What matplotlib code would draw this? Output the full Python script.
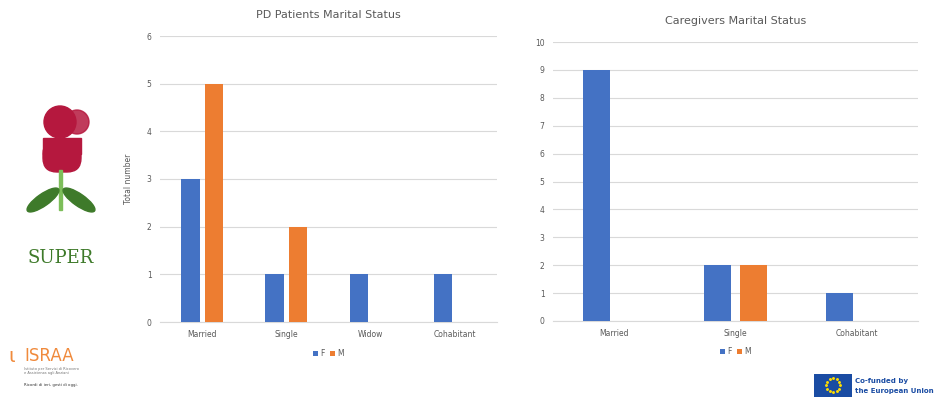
import matplotlib.pyplot as plt
import numpy as np
from matplotlib.patches import Circle, Ellipse, FancyBboxPatch, Rectangle

# data
patient_categories = ["Married", "Single", "Widow", "Cohabitant"]
patient_f = [3, 1, 1, 1]
patient_m = [5, 2, 0, 0]

caregiver_categories = ["Married", "Single", "Cohabitant"]
caregiver_f = [9, 2, 1]
caregiver_m = [0, 2, 0]

series_labels = ["F", "M"]
BLUE = "#4472C4"
ORANGE = "#ED7D31"
GRID = "#D9D9D9"
TEXT = "#595959"

W, H = 936, 397


def px(x0, y0, x1, y1):
    """Pixel box (top-left origin) -> figure rect."""
    return [x0 / W, 1 - y1 / H, (x1 - x0) / W, (y1 - y0) / H]


def bar_panel(ax, cats, f, m, ymax, title, width, offset, title_y):
    x = np.arange(len(cats))
    ax.bar(x - offset, f, width, color=BLUE, label=series_labels[0], zorder=3)
    ax.bar(x + offset, m, width, color=ORANGE, label=series_labels[1], zorder=3)
    ax.set_xlim(-0.5, len(cats) - 0.5)
    ax.set_ylim(0, ymax)
    ax.set_yticks(range(ymax + 1))
    ax.set_xticks(x)
    ax.set_xticklabels(cats)
    ax.grid(axis="y", color=GRID, linewidth=0.8, zorder=0)
    for s in ["top", "right", "left"]:
        ax.spines[s].set_visible(False)
    ax.spines["bottom"].set_color(GRID)
    ax.tick_params(axis="both", length=0, labelsize=5.5, colors=TEXT, pad=6)
    ax.figure.text(
        ax.get_position().x0 + ax.get_position().width / 2,
        title_y,
        title,
        ha="center",
        va="center",
        fontsize=8,
        color=TEXT,
    )
    ax.legend(
        loc="center",
        bbox_to_anchor=(0.5, -0.11),
        ncol=2,
        frameon=False,
        fontsize=5.5,
        handlelength=0.6,
        handleheight=0.6,
        handletextpad=0.3,
        columnspacing=0.8,
        labelcolor=TEXT,
    )


fig = plt.figure(figsize=(W / 100, H / 100), dpi=100)
fig.patch.set_facecolor("white")

ax1 = fig.add_axes(px(160, 36, 497, 322))
bar_panel(ax1, patient_categories, patient_f, patient_m, 6,
          "PD Patients Marital Status", 0.22, 0.14, 1 - 15 / H)
ax1.set_ylabel("Total number", fontsize=5.5, color=TEXT, labelpad=10)

ax2 = fig.add_axes(px(553, 42, 918, 321))
bar_panel(ax2, caregiver_categories, caregiver_f, caregiver_m, 10,
          "Caregivers Marital Status", 0.22, 0.145, 1 - 21 / H)

# SUPER logo
lg = fig.add_axes(px(15, 100, 105, 240))
lg.set_xlim(0, 90)
lg.set_ylim(140, 0)
lg.axis("off")
red = "#B5183E"
green = "#3E7A2A"
lg.add_patch(Circle((45, 22), 16, color=red))
lg.add_patch(Circle((62, 22), 12, color=red, alpha=0.85))
lg.add_patch(FancyBboxPatch((28, 40), 38, 32, boxstyle="round,pad=0,rounding_size=14", color=red))
lg.add_patch(Rectangle((28, 38), 38, 16, color=red))
lg.add_patch(Rectangle((44, 70), 3, 40, color="#7DBE5A"))
lg.add_patch(Ellipse((28, 100), 38, 12, angle=-35, color=green))
lg.add_patch(Ellipse((64, 100), 38, 12, angle=35, color=green))
fig.text(61 / W, 1 - 258 / H, "SUPER", ha="center", va="center",
         fontsize=13, color=green, family="DejaVu Serif")

# ISRAA logo
fig.text(24 / W, 1 - 356 / H, "ISRAA", ha="left", va="center",
         fontsize=12, color="#F08A3C")
fig.text(8 / W, 1 - 356 / H, "\u03b9", ha="left", va="center",
         fontsize=14, color="#F08A3C")
fig.text(24 / W, 1 - 371 / H, "Istituto per Servizi di Ricovero\ne Assistenza agli Anziani",
         ha="left", va="center", fontsize=2.6, color="#777777")
fig.text(24 / W, 1 - 385 / H, "Ricordi di ieri, gesti di oggi.",
         ha="left", va="center", fontsize=2.8, color="#333333")

# EU logo
eu = fig.add_axes(px(814, 374, 852, 397))
eu.set_xlim(0, 38)
eu.set_ylim(0, 23)
eu.axis("off")
eu.add_patch(Rectangle((0, 0), 38, 23, color="#1A4CA3"))
ang = np.linspace(0, 2 * np.pi, 12, endpoint=False)
eu.scatter(19 + 7 * np.cos(ang), 12 + 7 * np.sin(ang), s=1.2, color="#FFDD00")
fig.text(855 / W, 1 - 381 / H, "Co-funded by", ha="left", va="center",
         fontsize=5, color="#1A4CA3", weight="bold")
fig.text(855 / W, 1 - 391 / H, "the European Union", ha="left", va="center",
         fontsize=5, color="#1A4CA3", weight="bold")

fig.savefig("out.png", dpi=100)
